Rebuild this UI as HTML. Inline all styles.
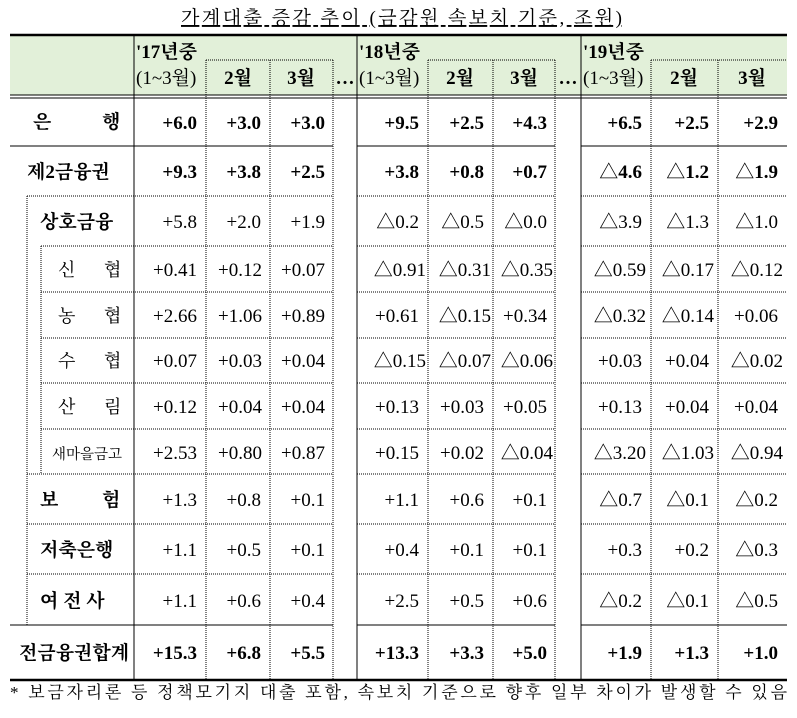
<!DOCTYPE html>
<html><head><meta charset="utf-8"><style>
html,body{margin:0;padding:0;background:#fff;}
svg text{font-family:"Liberation Serif","Noto Serif CJK SC",serif;}
</style></head><body>
<svg width="797" height="713" xmlns="http://www.w3.org/2000/svg">
<text x="181" y="24" font-size="19" font-family="Liberation Serif, Noto Serif CJK SC, serif" text-decoration="underline" textLength="441" lengthAdjust="spacing">가계대출 증감 추이 (금감원 속보치 기준, 조원)</text>
<rect x="10" y="35" width="777" height="60" fill="#e2f0d9"/>
<line x1="10" y1="35" x2="787" y2="35" stroke="#000" stroke-width="2.5"/>
<line x1="10" y1="95" x2="787" y2="95" stroke="#000" stroke-width="1"/>
<line x1="10" y1="98" x2="787" y2="98" stroke="#000" stroke-width="1"/>
<line x1="10" y1="680" x2="787" y2="680" stroke="#000" stroke-width="2.5"/>
<g stroke="#000" stroke-width="1">
<line x1="10" y1="146" x2="333" y2="146"/><line x1="357" y1="146" x2="555" y2="146"/><line x1="581" y1="146" x2="787" y2="146"/>
<line x1="10" y1="625" x2="333" y2="625"/><line x1="357" y1="625" x2="555" y2="625"/><line x1="581" y1="625" x2="787" y2="625"/>
<line x1="134" y1="35" x2="134" y2="680"/><line x1="357" y1="35" x2="357" y2="680"/><line x1="581" y1="35" x2="581" y2="680"/>
</g>
<g stroke="#000" stroke-width="1" stroke-dasharray="1,1">
<line x1="206" y1="60" x2="333" y2="60"/><line x1="428" y1="60" x2="555" y2="60"/><line x1="651" y1="60" x2="787" y2="60"/>
<line x1="206" y1="60" x2="206" y2="680"/><line x1="270" y1="60" x2="270" y2="680"/><line x1="333" y1="60" x2="333" y2="680"/>
<line x1="428" y1="60" x2="428" y2="680"/><line x1="493" y1="60" x2="493" y2="680"/><line x1="555" y1="60" x2="555" y2="680"/>
<line x1="651" y1="60" x2="651" y2="680"/><line x1="718" y1="60" x2="718" y2="680"/>
<line x1="27" y1="196" x2="27" y2="625"/><line x1="41" y1="246" x2="41" y2="474"/>
<line x1="27" y1="196" x2="333" y2="196"/><line x1="357" y1="196" x2="555" y2="196"/><line x1="581" y1="196" x2="787" y2="196"/>
<line x1="41" y1="246" x2="333" y2="246"/><line x1="357" y1="246" x2="555" y2="246"/><line x1="581" y1="246" x2="787" y2="246"/>
<line x1="41" y1="292" x2="333" y2="292"/><line x1="357" y1="292" x2="555" y2="292"/><line x1="581" y1="292" x2="787" y2="292"/>
<line x1="41" y1="338" x2="333" y2="338"/><line x1="357" y1="338" x2="555" y2="338"/><line x1="581" y1="338" x2="787" y2="338"/>
<line x1="41" y1="383" x2="333" y2="383"/><line x1="357" y1="383" x2="555" y2="383"/><line x1="581" y1="383" x2="787" y2="383"/>
<line x1="41" y1="429" x2="333" y2="429"/><line x1="357" y1="429" x2="555" y2="429"/><line x1="581" y1="429" x2="787" y2="429"/>
<line x1="27" y1="474" x2="333" y2="474"/><line x1="357" y1="474" x2="555" y2="474"/><line x1="581" y1="474" x2="787" y2="474"/>
<line x1="27" y1="524" x2="333" y2="524"/><line x1="357" y1="524" x2="555" y2="524"/><line x1="581" y1="524" x2="787" y2="524"/>
<line x1="27" y1="574" x2="333" y2="574"/><line x1="357" y1="574" x2="555" y2="574"/><line x1="581" y1="574" x2="787" y2="574"/>
</g>
<g font-size="19">
<text x="136" y="58" font-weight="bold">'17년중</text><text x="136" y="84">(1~3월)</text>
<text x="238" y="84" text-anchor="middle" font-weight="bold">2월</text><text x="301" y="84" text-anchor="middle" font-weight="bold">3월</text>
<text x="345" y="84" text-anchor="middle" font-weight="bold">…</text>
<text x="359" y="58" font-weight="bold">'18년중</text><text x="359" y="84">(1~3월)</text>
<text x="460" y="84" text-anchor="middle" font-weight="bold">2월</text><text x="524" y="84" text-anchor="middle" font-weight="bold">3월</text>
<text x="568" y="84" text-anchor="middle" font-weight="bold">…</text>
<text x="583" y="58" font-weight="bold">'19년중</text><text x="583" y="84">(1~3월)</text>
<text x="684" y="84" text-anchor="middle" font-weight="bold">2월</text><text x="752" y="84" text-anchor="middle" font-weight="bold">3월</text>
</g>
<g font-size="19" font-weight="bold">
<text x="33" y="128">은</text><text x="102" y="128">행</text>
<text x="27" y="178">제2금융권</text>
<text x="40" y="228">상호금융</text>
<text x="40" y="506">보</text><text x="102" y="506">험</text>
<text x="40" y="556">저축은행</text>
<text x="40" y="607">여 전 사</text>
<text x="19" y="659">전금융권합계</text>
</g>
<g font-size="18">
<text x="58" y="276">신</text><text x="104" y="276">협</text>
<text x="58" y="322">농</text><text x="104" y="322">협</text>
<text x="58" y="367">수</text><text x="104" y="367">협</text>
<text x="58" y="413">산</text><text x="104" y="413">림</text>
<text x="52" y="459" font-size="14.5">새마을금고</text>
</g>
<g font-size="19" text-anchor="end">
<g font-weight="bold">
<text x="197" y="129">+6.0</text><text x="261" y="129">+3.0</text><text x="325" y="129">+3.0</text><text x="419" y="129">+9.5</text><text x="484" y="129">+2.5</text><text x="547" y="129">+4.3</text><text x="642" y="129">+6.5</text><text x="709" y="129">+2.5</text><text x="778" y="129">+2.9</text>
<text x="197" y="178">+9.3</text><text x="261" y="178">+3.8</text><text x="325" y="178">+2.5</text><text x="419" y="178">+3.8</text><text x="484" y="178">+0.8</text><text x="547" y="178">+0.7</text><text x="642" y="178">△4.6</text><text x="709" y="178">△1.2</text><text x="778" y="178">△1.9</text>
<text x="197" y="659">+15.3</text><text x="261" y="659">+6.8</text><text x="325" y="659">+5.5</text><text x="419" y="659">+13.3</text><text x="484" y="659">+3.3</text><text x="547" y="659">+5.0</text><text x="642" y="659">+1.9</text><text x="709" y="659">+1.3</text><text x="778" y="659">+1.0</text>
</g>
<text x="197" y="228">+5.8</text><text x="261" y="228">+2.0</text><text x="325" y="228">+1.9</text><text x="419" y="228">△0.2</text><text x="484" y="228">△0.5</text><text x="547" y="228">△0.0</text><text x="642" y="228">△3.9</text><text x="709" y="228">△1.3</text><text x="778" y="228">△1.0</text>
<text x="197" y="276">+0.41</text><text x="262" y="276">+0.12</text><text x="325" y="276">+0.07</text><text x="426" y="276">△0.91</text><text x="491" y="276">△0.31</text><text x="553" y="276">△0.35</text><text x="646" y="276">△0.59</text><text x="714" y="276">△0.17</text><text x="783" y="276">△0.12</text>
<text x="197" y="322">+2.66</text><text x="262" y="322">+1.06</text><text x="325" y="322">+0.89</text><text x="419" y="322">+0.61</text><text x="491" y="322">△0.15</text><text x="547" y="322">+0.34</text><text x="646" y="322">△0.32</text><text x="714" y="322">△0.14</text><text x="778" y="322">+0.06</text>
<text x="197" y="367">+0.07</text><text x="262" y="367">+0.03</text><text x="325" y="367">+0.04</text><text x="426" y="367">△0.15</text><text x="491" y="367">△0.07</text><text x="553" y="367">△0.06</text><text x="642" y="367">+0.03</text><text x="709" y="367">+0.04</text><text x="783" y="367">△0.02</text>
<text x="197" y="413">+0.12</text><text x="262" y="413">+0.04</text><text x="325" y="413">+0.04</text><text x="419" y="413">+0.13</text><text x="484" y="413">+0.03</text><text x="547" y="413">+0.05</text><text x="642" y="413">+0.13</text><text x="709" y="413">+0.04</text><text x="778" y="413">+0.04</text>
<text x="197" y="459">+2.53</text><text x="262" y="459">+0.80</text><text x="325" y="459">+0.87</text><text x="419" y="459">+0.15</text><text x="484" y="459">+0.02</text><text x="553" y="459">△0.04</text><text x="646" y="459">△3.20</text><text x="714" y="459">△1.03</text><text x="783" y="459">△0.94</text>
<text x="197" y="506">+1.3</text><text x="261" y="506">+0.8</text><text x="325" y="506">+0.1</text><text x="419" y="506">+1.1</text><text x="484" y="506">+0.6</text><text x="547" y="506">+0.1</text><text x="642" y="506">△0.7</text><text x="709" y="506">△0.1</text><text x="778" y="506">△0.2</text>
<text x="197" y="556">+1.1</text><text x="261" y="556">+0.5</text><text x="325" y="556">+0.1</text><text x="419" y="556">+0.4</text><text x="484" y="556">+0.1</text><text x="547" y="556">+0.1</text><text x="642" y="556">+0.3</text><text x="709" y="556">+0.2</text><text x="778" y="556">△0.3</text>
<text x="197" y="607">+1.1</text><text x="261" y="607">+0.6</text><text x="325" y="607">+0.4</text><text x="419" y="607">+2.5</text><text x="484" y="607">+0.5</text><text x="547" y="607">+0.6</text><text x="642" y="607">△0.2</text><text x="709" y="607">△0.1</text><text x="778" y="607">△0.5</text>
</g>
<text x="10" y="698" font-size="17" font-family="Liberation Sans, Noto Sans CJK KR, sans-serif" textLength="777" lengthAdjust="spacing">* 보금자리론 등 정책모기지 대출 포함, 속보치 기준으로 향후 일부 차이가 발생할 수 있음</text>
</svg>
</body></html>
